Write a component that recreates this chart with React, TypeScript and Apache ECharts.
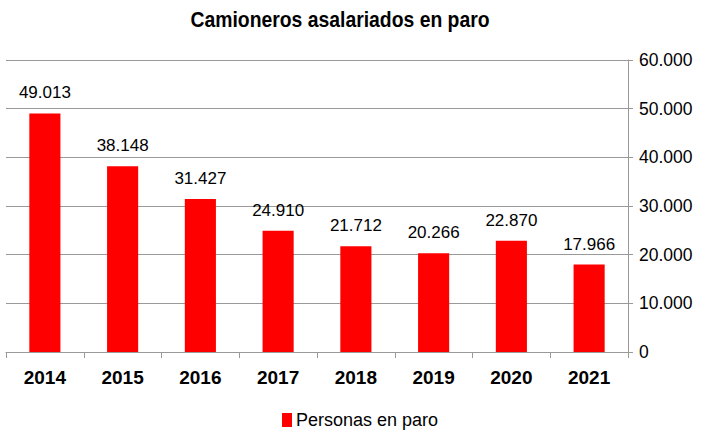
import React, { useEffect, useRef } from "react";
import * as echarts from "echarts";

const years = ["2014", "2015", "2016", "2017", "2018", "2019", "2020", "2021"];
const personasEnParo = [49013, 38148, 31427, 24910, 21712, 20266, 22870, 17966];
const yTicks = { min: 0, max: 60000, interval: 10000 };
const titleText = "Camioneros asalariados en paro";

const fmt = (v: number) => String(v).replace(/\B(?=(\d{3})+(?!\d))/g, ".");

export default function App() {
  const ref = useRef<HTMLDivElement>(null);
  useEffect(() => {
    const chart = echarts.init(ref.current!, null, { renderer: "svg" });
    const font = "'Liberation Sans', Arial, sans-serif";
    chart.setOption({
      animation: false,
      backgroundColor: "#ffffff",
      graphic: [
        {
          type: "text",
          x: 340,
          y: 19,
          scaleX: 0.88,
          originX: 0,
          style: {
            text: titleText,
            fontFamily: font,
            fontSize: 22,
            fontWeight: "bold",
            fill: "#000",
            align: "center",
            verticalAlign: "middle",
          },
        },
      ],
      grid: { left: 6, right: 81, top: 60, bottom: 82, containLabel: false },
      legend: {
        bottom: 0,
        left: 277,
        itemWidth: 10,
        itemHeight: 14,
        itemGap: 4,
        icon: "rect",
        data: ["Personas en paro"],
        textStyle: { fontFamily: font, fontSize: 18, color: "#000", padding: [0, 0, 0, -1] },
      },
      xAxis: {
        type: "category",
        data: years,
        axisLine: { lineStyle: { color: "#999", width: 1 } },
        axisTick: { show: true, length: 6, lineStyle: { color: "#999" } },
        axisLabel: { fontFamily: font, fontSize: 19, fontWeight: "bold", color: "#000", margin: 16 },
      },
      yAxis: {
        type: "value",
        position: "right",
        min: yTicks.min,
        max: yTicks.max,
        interval: yTicks.interval,
        axisLine: { show: true, lineStyle: { color: "#999" } },
        axisTick: { show: true, length: 5, lineStyle: { color: "#999" } },
        splitLine: { lineStyle: { color: "#999", width: 1 } },
        axisLabel: { fontFamily: font, fontSize: 17.5, color: "#000", margin: 11, formatter: (v: number) => fmt(v) },
      },
      series: [
        {
          name: "Personas en paro",
          type: "bar",
          data: personasEnParo,
          barWidth: "40%",
          itemStyle: { color: "#ff0000" },
          label: {
            show: true,
            position: "top",
            distance: 12,
            fontFamily: font,
            fontSize: 17,
            color: "#000",
            formatter: (p: any) => fmt(p.value),
          },
        },
      ],
    });
    return () => chart.dispose();
  }, []);
  return <div ref={ref} style={{ position: "fixed", left: 0, top: 0, width: 709, height: 434 }} />;
}
